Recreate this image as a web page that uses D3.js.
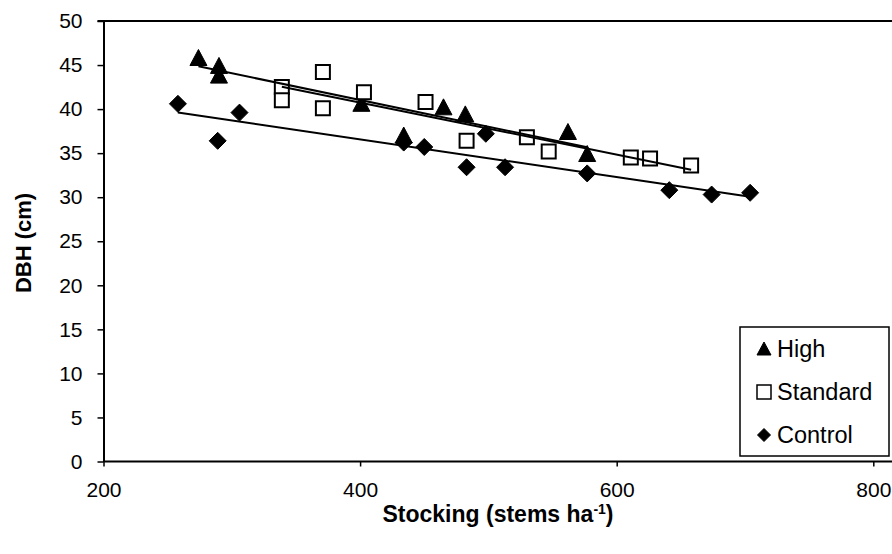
<!DOCTYPE html>
<html>
<head>
<meta charset="utf-8">
<script src="https://cdn.jsdelivr.net/npm/d3@7/dist/d3.min.js"></script>
<style>
  html, body { margin: 0; padding: 0; background: #fff; }
  svg { display: block; font-family: "Liberation Sans", Arial, sans-serif; }
</style>
</head>
<body>
<svg id="chart" width="892" height="554"></svg>
<script>
// Stocking (stems/ha) and DBH (cm) for each thinning treatment
const highStocking = [274, 290, 290, 401, 434, 465, 482, 562, 577];
const highDbh      = [45.8, 44.9, 43.8, 40.6, 37.0, 40.2, 39.4, 37.4, 34.9];

const standardStocking = [339, 339, 371, 371, 403, 451, 483, 530, 547, 611, 626, 658];
const standardDbh      = [42.5, 41.0, 44.2, 40.1, 41.9, 40.8, 36.4, 36.8, 35.2, 34.5, 34.4, 33.6];

const controlStocking = [258, 289, 306, 434, 450, 483, 498, 513, 577, 641, 674, 704];
const controlDbh      = [40.6, 36.4, 39.6, 36.2, 35.7, 33.4, 37.2, 33.4, 32.7, 30.8, 30.3, 30.5];

const seriesNames = ["High", "Standard", "Control"];
const xTicks = [200, 400, 600, 800];
const yTicks = [0, 5, 10, 15, 20, 25, 30, 35, 40, 45, 50];

const svg = d3.select("#chart");

const x = d3.scaleLinear().domain([200, 800]).range([103.5, 873.3]);
const y = d3.scaleLinear().domain([0, 50]).range([461.5, 21]);

const plotRight = 900; // frame runs past the visible edge

// marker shapes
const shapes = {
  High: "M0,-8.5L8.5,7.5L-8.5,7.5Z",
  Standard: "M-7,-7H7V7H-7Z",
  Control: "M0,-8.5L8.5,0L0,8.5L-8.5,0Z"
};
const legendShapes = {
  High: "M0,-7L7,6L-7,6Z",
  Standard: "M-7,-7H7V7H-7Z",
  Control: "M0,-6.5L6.5,0L0,6.5L-6.5,0Z"
};

const series = [
  { name: "High", xs: highStocking, ys: highDbh },
  { name: "Standard", xs: standardStocking, ys: standardDbh },
  { name: "Control", xs: controlStocking, ys: controlDbh }
];

// least-squares linear trend over the extent of each series
function linearFit(xs, ys) {
  const mx = d3.mean(xs), my = d3.mean(ys);
  let sxy = 0, sxx = 0;
  xs.forEach((v, i) => { sxy += (v - mx) * (ys[i] - my); sxx += (v - mx) * (v - mx); });
  const b = sxy / sxx, a = my - b * mx;
  const [x0, x1] = d3.extent(xs);
  return [[x0, a + b * x0], [x1, a + b * x1]];
}

// plot frame: top border
svg.append("line")
  .attr("x1", x(200) - 6).attr("x2", plotRight)
  .attr("y1", y(50)).attr("y2", y(50))
  .attr("stroke", "#000").attr("stroke-width", 2);

// axes
const yAxis = d3.axisLeft(y).tickValues(yTicks).tickFormat(d3.format("d"))
  .tickSize(6).tickSizeOuter(0).tickPadding(15);
const gy = svg.append("g").attr("transform", `translate(${x(200)},0)`).call(yAxis);

const xAxis = d3.axisBottom(x).tickValues(xTicks).tickFormat(d3.format("d"))
  .tickSize(5).tickSizeOuter(0).tickPadding(16);
const gx = svg.append("g").attr("transform", `translate(0,${y(0)})`).call(xAxis);

[gx, gy].forEach(g => {
  g.selectAll("path.domain").attr("stroke", "#000").attr("stroke-width", 2);
  g.selectAll(".tick line").attr("stroke", "#000").attr("stroke-width", 1.5);
  g.selectAll(".tick text").attr("fill", "#000")
    .style("font-size", "21px").style("font-family", "'Liberation Sans', Arial, sans-serif");
});
// extend the x axis line to the frame edge
gx.select("path.domain").attr("d", `M${x(200)},0H${plotRight}`);

// markers
series.forEach(s => {
  svg.append("g").selectAll("path")
    .data(s.xs.map((v, i) => [v, s.ys[i]]))
    .join("path")
    .attr("transform", d => `translate(${x(d[0])},${y(d[1])})`)
    .attr("d", shapes[s.name])
    .attr("fill", s.name === "Standard" ? "#fff" : "#000")
    .attr("stroke", "#000")
    .attr("stroke-width", s.name === "Standard" ? 2 : 1);
});

// trend lines drawn over the markers
const line = d3.line().x(d => x(d[0])).y(d => y(d[1]));
series.forEach(s => {
  svg.append("path")
    .attr("d", line(linearFit(s.xs, s.ys)))
    .attr("fill", "none").attr("stroke", "#000").attr("stroke-width", 2);
});

// legend
const lg = svg.append("g");
lg.append("rect").attr("x", 740).attr("y", 327).attr("width", 149).attr("height", 129)
  .attr("fill", "#fff").attr("stroke", "#000").attr("stroke-width", 1.5);
seriesNames.forEach((name, i) => {
  const cy = 349 + i * 43;
  lg.append("path").attr("transform", `translate(764,${cy})`)
    .attr("d", legendShapes[name])
    .attr("fill", name === "Standard" ? "#fff" : "#000")
    .attr("stroke", "#000").attr("stroke-width", name === "Standard" ? 1.5 : 1);
  lg.append("text").attr("x", 777).attr("y", cy + 8)
    .style("font-size", "23.5px").text(name);
});

// axis titles
svg.append("text")
  .attr("transform", "translate(31,243) rotate(-90)")
  .attr("text-anchor", "middle")
  .style("font-size", "22px").style("font-weight", "bold")
  .text("DBH (cm)");

const xt = svg.append("text")
  .attr("x", 498).attr("y", 522)
  .attr("text-anchor", "middle")
  .style("font-size", "23px").style("font-weight", "bold");
xt.append("tspan").text("Stocking (stems ha");
xt.append("tspan").attr("dy", -8).style("font-size", "14px").text("-1");
xt.append("tspan").attr("dy", 8).text(")");
</script>
</body>
</html>
